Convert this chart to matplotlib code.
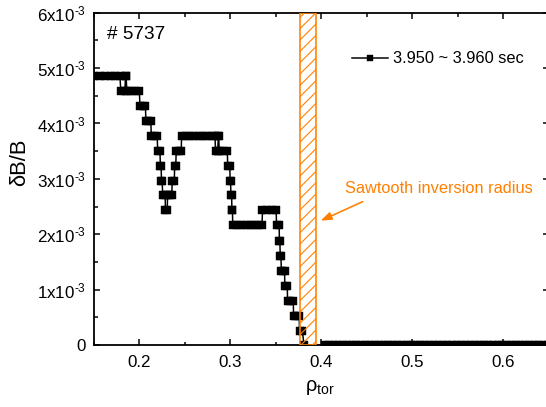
import matplotlib
matplotlib.use('Agg')
import matplotlib.pyplot as plt
from matplotlib.ticker import MultipleLocator

DPI = 68
def P(px):
    return px * 72.0 / DPI

plt.rcParams['font.family'] = ['Liberation Sans', 'DejaVu Sans']
plt.rcParams['mathtext.fontset'] = 'custom'
plt.rcParams['mathtext.rm'] = 'Liberation Sans'
plt.rcParams['mathtext.it'] = 'Liberation Sans:italic'
plt.rcParams['mathtext.bf'] = 'Liberation Sans:bold'
plt.rcParams['hatch.linewidth'] = P(1.1)

ORANGE = '#FF8000'

# radial position (rho_tor) of each measured point
rho = [
    0.145, 0.151, 0.157, 0.163, 0.169, 0.174, 0.1790,
    0.1800, 0.1845,
    0.1852, 0.1858,
    0.1866, 0.1912, 0.1958, 0.2004,
    0.2010, 0.2040, 0.2070,
    0.2076, 0.2103, 0.2130,
    0.2135, 0.2168, 0.2200,
    0.2205, 0.2230,
    0.2235, 0.2243,
    0.2247, 0.2253,
    0.2262, 0.2287,
    0.2291, 0.2310,
    0.2314, 0.2337, 0.2360,
    0.2365, 0.2388,
    0.2392, 0.2404,
    0.2409, 0.2437, 0.2464,
    0.2468, 0.2515, 0.2562, 0.2609, 0.2656, 0.2703, 0.2750, 0.2797, 0.2835,
    0.2841, 0.2866,
    0.2871, 0.2876,
    0.2881, 0.2926, 0.2970,
    0.2975, 0.2998,
    0.3001, 0.3006,
    0.3010, 0.3018,
    0.3021, 0.3027,
    0.3030, 0.3077, 0.3124, 0.3171, 0.3218, 0.3265, 0.3312, 0.3352,
    0.3357, 0.3407, 0.3457, 0.3507,
    0.3512, 0.3540,
    0.3543, 0.3548,
    0.3552, 0.3560,
    0.3564, 0.3582, 0.3599,
    0.3603, 0.3629,
    0.3633, 0.3664, 0.3695,
    0.3699, 0.3730, 0.3760,
    0.3764, 0.3795,
    0.3813, 0.404, 0.409, 0.414, 0.419, 0.424, 0.429, 0.434, 0.439, 0.444,
    0.449, 0.454, 0.459, 0.464, 0.469, 0.474, 0.479, 0.484, 0.489, 0.494,
    0.499, 0.504, 0.509, 0.514, 0.519, 0.524, 0.529, 0.534, 0.539, 0.544,
    0.549, 0.554, 0.559, 0.564, 0.569, 0.574, 0.579, 0.584, 0.589, 0.594,
    0.599, 0.604, 0.609, 0.614, 0.619, 0.624, 0.629, 0.634, 0.639, 0.644,
    0.649, 0.654,
]

# dB/B in units of 1e-3
dbb_e3 = [
    4.86, 4.86, 4.86, 4.86, 4.86, 4.86, 4.86,
    4.59, 4.59,
    4.86, 4.86,
    4.59, 4.59, 4.59, 4.59,
    4.32, 4.32, 4.32,
    4.05, 4.05, 4.05,
    3.78, 3.78, 3.78,
    3.51, 3.51,
    3.24, 3.24,
    2.97, 2.97,
    2.70, 2.70,
    2.43, 2.43,
    2.70, 2.70, 2.70,
    2.97, 2.97,
    3.24, 3.24,
    3.51, 3.51, 3.51,
    3.78, 3.78, 3.78, 3.78, 3.78, 3.78, 3.78, 3.78, 3.78,
    3.51, 3.51,
    3.78, 3.78,
    3.51, 3.51, 3.51,
    3.24, 3.24,
    2.97, 2.97,
    2.70, 2.70,
    2.43, 2.43,
    2.16, 2.16, 2.16, 2.16, 2.16, 2.16, 2.16, 2.16,
    2.43, 2.43, 2.43, 2.43,
    2.16, 2.16,
    1.88, 1.88,
    1.61, 1.61,
    1.34, 1.34, 1.34,
    1.07, 1.07,
    0.80, 0.80, 0.80,
    0.53, 0.53, 0.53,
    0.26, 0.26,
    0, 0, 0, 0, 0, 0, 0, 0, 0, 0,
    0, 0, 0, 0, 0, 0, 0, 0, 0, 0,
    0, 0, 0, 0, 0, 0, 0, 0, 0, 0,
    0, 0, 0, 0, 0, 0, 0, 0, 0, 0,
    0, 0, 0, 0, 0, 0, 0, 0, 0, 0,
    0, 0,
]

series_label = '3.950 ~ 3.960 sec'
shot_label = '# 5737'
inversion_band = [0.3769, 0.3945]
annotation_text = 'Sawtooth inversion radius'

yticks = [0, 1e-3, 2e-3, 3e-3, 4e-3, 5e-3, 6e-3]
yticklabels = ['0',
               r'$\mathregular{1x10^{‐3}}$',
               r'$\mathregular{2x10^{‐3}}$',
               r'$\mathregular{3x10^{‐3}}$',
               r'$\mathregular{4x10^{‐3}}$',
               r'$\mathregular{5x10^{‐3}}$',
               r'$\mathregular{6x10^{‐3}}$']

fig = plt.figure(figsize=(546 / DPI, 407 / DPI), dpi=DPI)
fig.patch.set_facecolor('white')
ax = fig.add_axes([93.5 / 546, 62 / 407, 455 / 546, 332.3 / 407])

ax.plot(rho, [v * 1e-3 for v in dbb_e3], color='black', lw=P(1.5),
        marker='s', ms=P(7.2), mfc='black', mec='black', mew=P(0.4),
        label=series_label, zorder=3)

ax.axvspan(inversion_band[0], inversion_band[1], facecolor='none',
           edgecolor=ORANGE, hatch='//', lw=P(1.6), zorder=4)

ax.set_xlim(0.15, 0.65)
ax.set_ylim(0, 6e-3)
ax.xaxis.set_major_locator(MultipleLocator(0.1))
ax.xaxis.set_minor_locator(MultipleLocator(0.05))
ax.set_yticks(yticks)
ax.set_yticklabels(yticklabels)
ax.yaxis.set_minor_locator(MultipleLocator(0.5e-3))

ax.tick_params(which='both', direction='in', top=True, right=True,
               width=P(1.5), labelsize=P(17), colors='black')
ax.tick_params(which='major', length=P(6))
ax.tick_params(which='minor', length=P(3.5))
ax.tick_params(axis='x', which='major', pad=P(10))
ax.tick_params(axis='y', which='major', pad=P(7.5))
for s in ax.spines.values():
    s.set_linewidth(P(1.8))

ax.set_xlabel(r'$\mathregular{\rho_{tor}}$', fontsize=P(20))
ax.xaxis.set_label_coords(0.498, -0.100)
ax.set_ylabel('δB/B', fontsize=P(22))
ax.yaxis.set_label_coords(-0.140, 0.549)

ax.text(0.029, 0.920, shot_label, transform=ax.transAxes,
        fontsize=P(19), ha='left', va='baseline')

ax.text(0.4264, 2.750e-3, annotation_text, color=ORANGE,
        fontsize=P(16.4), ha='left', va='baseline')
ax.annotate('', xy=(0.3997, 2.245e-3), xytext=(0.4458, 2.588e-3),
            arrowprops=dict(arrowstyle='-|>,head_length=0.95,head_width=0.35',
                            color=ORANGE, lw=P(1.6), shrinkA=0, shrinkB=0,
                            mutation_scale=10))

leg = ax.legend(loc='center left', bbox_to_anchor=(0.5675, 0.861),
                frameon=False, fontsize=P(16.4), handlelength=2.23,
                handletextpad=0.3, borderpad=0, borderaxespad=0,
                numpoints=1, markerscale=6 / 7.2)

fig.savefig('out.png', dpi=DPI, facecolor='white')
